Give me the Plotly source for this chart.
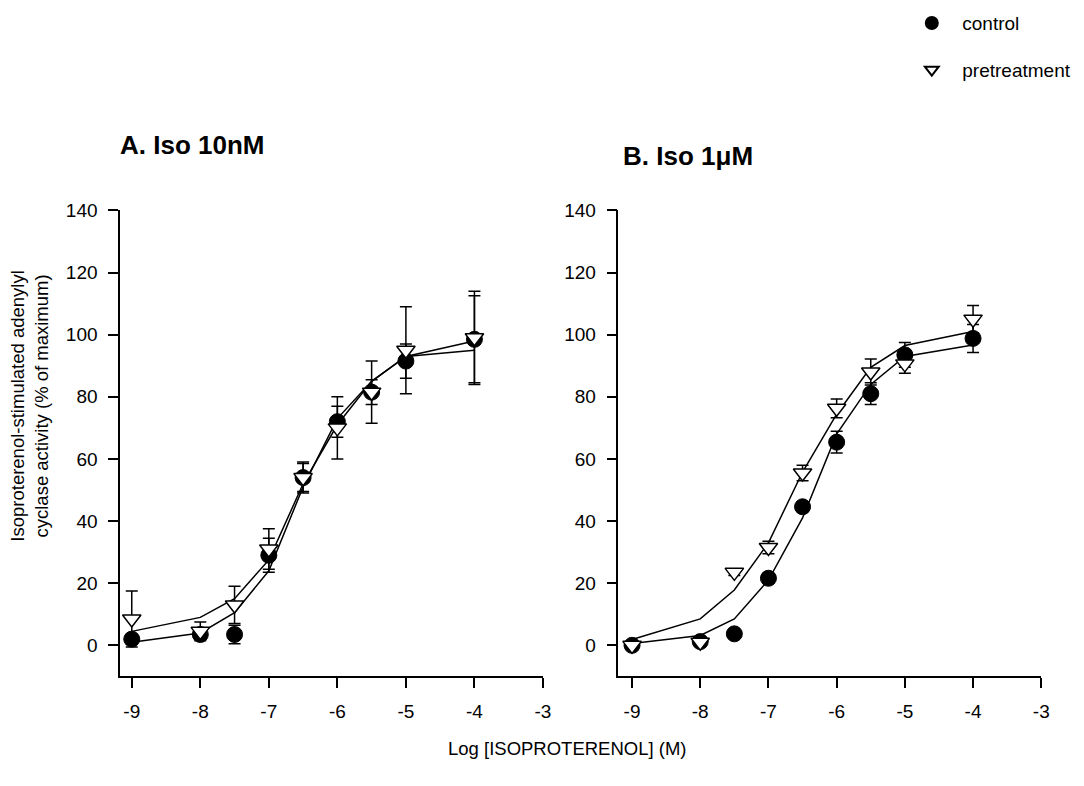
import plotly.graph_objects as go

W, H = 1084, 786

# ---------------- data ----------------
log_iso = [-9, -8, -7.5, -7, -6.5, -6, -5.5, -5, -4]

# Panel A (Iso 10nM)
a_control = [2, 3.5, 3.5, 29, 54, 72, 81.5, 91.5, 98.5]
a_control_err = [1.5, 1.5, 3, 5.5, 4.5, 5, 4, 5.5, 14]
a_pretreat = [8.5, 4.5, 13, 31, 54, 70, 81.5, 95, 99]
a_pretreat_err = [9, 3, 6, 6.5, 5, 10, 10, 14, 15]
a_control_fit = [1, 4, 10.5, 24, 51, 73, 85, 93, 95]
a_pretreat_fit = [4.5, 9, 15, 27.5, 52, 71, 85, 93, 98]

# Panel B (Iso 1uM)
b_control = [0, 1.2, 3.7, 21.6, 44.6, 65.4, 81, 93.5, 98.8]
b_control_err = [1, 1, 1, 1.5, 1.5, 3.5, 3.5, 4, 4.5]
b_pretreat = [0, 1, 23.5, 31.5, 55.5, 76.3, 88, 90.6, 105]
b_pretreat_err = [1, 1, 1, 2, 2.5, 3, 4.2, 3, 4.4]
b_control_fit = [0.6, 3.2, 8.5, 21, 41, 68, 84, 93, 96.7]
b_pretreat_fit = [1.9, 8.5, 17.8, 33, 55.8, 74.4, 89.5, 96.5, 101]

y_ticks = [0, 20, 40, 60, 80, 100, 120, 140]
x_ticks = [-9, -8, -7, -6, -5, -4, -3]
x_ticktext = ["-9", "-8", "-7", "-6", "-5", "-4", "-3"]

FONT = "Liberation Sans, Arial, Helvetica, sans-serif"

fig = go.Figure()

def add_panel(xa, ya, ctrl, ctrl_err, pre, pre_err, ctrl_fit, pre_fit, show):
    # fitted curves
    for fit in (ctrl_fit, pre_fit):
        fig.add_trace(go.Scatter(x=log_iso, y=fit, mode="lines",
                                 line=dict(color="black", width=1.5),
                                 xaxis=xa, yaxis=ya, showlegend=False,
                                 hoverinfo="skip"))
    fig.add_trace(go.Scatter(
        x=log_iso, y=ctrl, mode="markers", name="control",
        legendgroup="control", showlegend=show,
        marker=dict(symbol="circle", size=16, color="black",
                    line=dict(color="black", width=1)),
        error_y=dict(type="data", array=ctrl_err, color="black",
                     thickness=1.5, width=6),
        xaxis=xa, yaxis=ya))
    fig.add_trace(go.Scatter(
        x=log_iso, y=pre, mode="markers", name="pretreatment",
        legendgroup="pretreat", showlegend=show,
        marker=dict(symbol="triangle-down", size=16, color="white",
                    line=dict(color="black", width=1.5)),
        error_y=dict(type="data", array=pre_err, color="black",
                     thickness=1.5, width=6),
        xaxis=xa, yaxis=ya))

add_panel("x", "y", a_control, a_control_err, a_pretreat, a_pretreat_err,
          a_control_fit, a_pretreat_fit, True)
add_panel("x2", "y2", b_control, b_control_err, b_pretreat, b_pretreat_err,
          b_control_fit, b_pretreat_fit, False)

y_dom = [1 - 675 / H, 1 - 203 / H]

axis_common = dict(showgrid=False, zeroline=False, showline=True,
                   linecolor="black", linewidth=1.5, ticks="outside",
                   ticklen=10, tickwidth=1.5, tickcolor="black",
                   ticklabelstandoff=7,
                   tickfont=dict(family=FONT, size=19, color="black"))

fig.update_layout(
    width=W, height=H,
    margin=dict(l=0, r=0, t=0, b=0),
    paper_bgcolor="white", plot_bgcolor="white",
    font=dict(family=FONT, color="black"),
    xaxis=dict(domain=[121 / W, 547 / W], range=[-9.17, -3],
               tickvals=x_ticks, ticktext=x_ticktext, anchor="y", **axis_common),
    yaxis=dict(domain=y_dom, range=[-10, 140], tickvals=y_ticks,
               anchor="x", **axis_common),
    xaxis2=dict(domain=[623 / W, 1049 / W], range=[-9.2, -3],
                tickvals=x_ticks, ticktext=x_ticktext, anchor="y2", **axis_common),
    yaxis2=dict(domain=y_dom, range=[-10, 140], tickvals=y_ticks,
                anchor="x2", **axis_common),
    showlegend=True,
    legend=dict(x=908 / W, y=1 + 6 / H, xanchor="left", yanchor="top",
                font=dict(family=FONT, size=19, color="black"),
                tracegroupgap=19, bgcolor="rgba(0,0,0,0)",
                itemwidth=51, itemsizing="constant"),
)

annotations = [
    dict(text="<b>A. Iso 10nM</b>", x=119 / W, y=1 - 137 / H,
         xanchor="left", yanchor="middle", font=dict(size=26)),
    dict(text="<b>B. Iso 1μM</b>", x=626 / W, y=1 - 148 / H,
         xanchor="left", yanchor="middle", font=dict(size=26)),
    dict(text="Isoproterenol-stimulated adenylyl<br>cyclase activity (% of maximum)",
         x=30 / W, y=1 - 401 / H, xanchor="center", yanchor="middle",
         textangle=-90, font=dict(size=18.5)),
    dict(text="Log [ISOPROTERENOL] (M)", x=572 / W, y=1 - 748 / H,
         xanchor="center", yanchor="middle", font=dict(size=18.5)),
]
for a in annotations:
    a.update(xref="paper", yref="paper", showarrow=False)
    a["font"] = dict(family=FONT, color="black", **a["font"])
fig.update_layout(annotations=annotations)

fig.write_html("out.html")
